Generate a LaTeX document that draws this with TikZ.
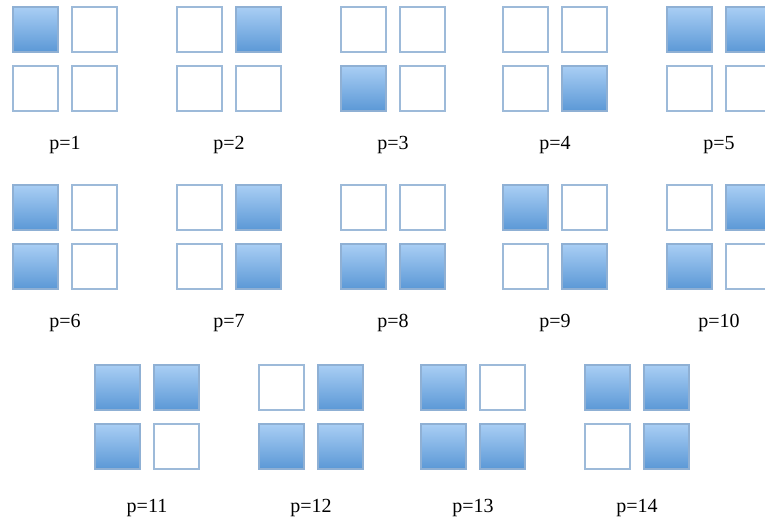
\documentclass[tikz,border=0pt]{standalone}
\usepackage{fontspec}
\setmainfont{Liberation Serif}
\usepackage{xcolor}
\usepackage{tikz}
\usetikzlibrary{positioning}

\definecolor{celltop}{HTML}{A9CEF4}
\definecolor{cellbot}{HTML}{5B98D6}
\definecolor{cellrim}{HTML}{8FB0D4}
\definecolor{emptyrim}{HTML}{9DBAD9}

\begin{document}
\begin{tikzpicture}[
  x=1pt, y=-1pt,
  cell/.style={minimum size=45pt, inner sep=0pt, line width=1.2pt},
  cellon/.style={cell, draw=cellrim, top color=celltop, bottom color=cellbot},
  celloff/.style={cell, draw=emptyrim, fill=white},
  plabel/.style={font=\fontsize{20}{22}\selectfont, inner sep=0pt}
]
\useasboundingbox (0,0) rectangle (765,525);
\clip (0,0) rectangle (765,525);

% one group per p: centre x, top y, label y, then TL/TR/BL/BR
\foreach \p/\cx/\ty/\ly/\tl/\tr/\bl/\br in {
   1/65/7/145/cellon/celloff/celloff/celloff,
   2/229/7/145/celloff/cellon/celloff/celloff,
   3/393/7/145/celloff/celloff/cellon/celloff,
   4/555/7/145/celloff/celloff/celloff/cellon,
   5/719/7/145/cellon/cellon/celloff/celloff,
   6/65/185/323/cellon/celloff/cellon/celloff,
   7/229/185/323/celloff/cellon/celloff/cellon,
   8/393/185/323/celloff/celloff/cellon/cellon,
   9/555/185/323/cellon/celloff/celloff/cellon,
   10/719/185/323/celloff/cellon/cellon/celloff,
   11/147/365/508/cellon/cellon/cellon/celloff,
   12/311/365/508/celloff/cellon/cellon/cellon,
   13/473/365/508/cellon/celloff/cellon/cellon,
   14/637/365/508/cellon/cellon/celloff/cellon}
{
  \node[\tl] (tl\p) at (\cx-29.5,\ty+22.5) {};
  \node[\tr] (tr\p) at (\cx+29.5,\ty+22.5) {};
  \node[\bl] (bl\p) at (\cx-29.5,\ty+81.5) {};
  \node[\br] (br\p) at (\cx+29.5,\ty+81.5) {};
  \node[plabel] (lab\p) at (\cx,\ly) {p=\p};
}
\end{tikzpicture}
\end{document}
